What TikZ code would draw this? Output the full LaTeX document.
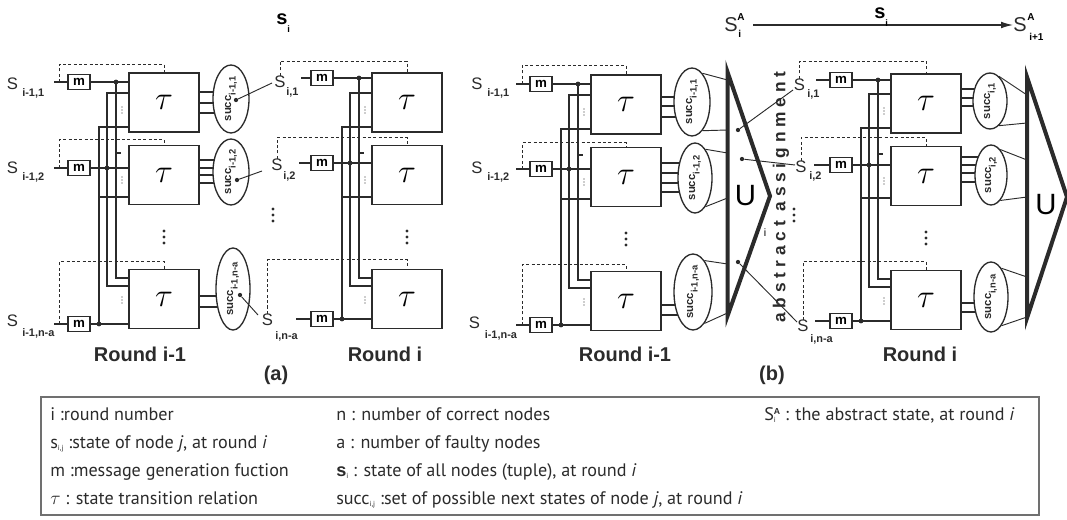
\documentclass[tikz,border=0pt]{standalone}
\usepackage{fontspec}
\setmainfont{Liberation Sans}
\newfontfamily\legfont{PT Sans}
\newfontfamily\spacedfont[LetterSpace=28]{Liberation Sans}
\usetikzlibrary{shapes.geometric,arrows.meta,calc}

\definecolor{ink}{HTML}{2B2B2B}
\definecolor{frame}{HTML}{707070}

\pgfdeclarelayer{back}
\pgfsetlayers{back,main}

\newcommand\fs[1]{\fontsize{#1}{#1}\selectfont}
% legend sub/superscripts
\newcommand\lsub[1]{\raisebox{-2pt}{\fs{5.5}#1}}
\newcommand\lsup[1]{\raisebox{4pt}{\fs{6.5}\normalfont\bfseries #1}}
% subscript inside the succ ellipses
\newcommand\ssub[1]{\raisebox{-3.4pt}{\fs{7}#1}}

\newcommand\smalldots[2]{\foreach \k in {-3,0,3}{\fill[ink] (#1,#2+\k) circle (0.55pt);}}
\newcommand\bigdots[2]{\foreach \k in {-6,0,6}{\fill[ink] (#1,#2+\k) circle (1.15pt);}}
% dashed feedback: start, rise above the box, target box
\newcommand\feedback[3]{\draw[feedback] (#1) |- ($(#3.north)+(0,-#2)$) -- (#3.north);}

\tikzset{
  x=0.75pt, y=-0.75pt,
  wire/.style={draw=ink, line width=1.2pt},
  thinwire/.style={draw=ink, line width=0.7pt},
  taubox/.style={draw=ink, line width=1.2pt, fill=white, minimum width=52.5pt,
    minimum height=44.25pt, inner sep=0pt, font=\fs{25}},
  mbox/.style={draw=ink, line width=0.8pt, fill=white, minimum width=16.5pt,
    minimum height=11.25pt, inner sep=0pt, font=\fs{10}\bfseries},
  feedback/.style={draw=ink, line width=0.6pt, dash pattern=on 2.3pt off 1.7pt},
  junc/.style={circle, fill=ink, inner sep=0pt, minimum size=3.6pt},
  succbox/.style={draw=ink, ellipse, line width=1pt, fill=white, inner sep=0pt},
  slabel/.style={inner sep=0pt, font=\fs{12.5}, text=ink},
  sub/.style={inner sep=0pt, font=\fs{8.2}\bfseries, text=ink, anchor=west},
  succlabel/.style={inner sep=0pt, rotate=90, font=\fs{8.5}\bfseries, text=ink},
  roundlabel/.style={inner sep=0pt, font=\fs{15}\bfseries, text=ink},
  union/.style={draw=ink, line width=3pt, line join=miter},
  pointer/.style={draw=ink, line width=0.7pt},
  tip/.style={circle, fill=ink, inner sep=0pt, minimum size=3.2pt},
  arrowline/.style={draw=ink, line width=0.9pt, -{Latex[length=9pt,width=5pt]}},
}

% one round: three transition boxes with message generators and broadcast buses
\newcommand\roundwiring[6]{%
  \begin{scope}[shift={(#2,#3)}]
    \coordinate (#1a) at (107,93);
    \coordinate (#1b) at (107,286);
    \coordinate (#1c) at (99,127);
    \coordinate (#1d) at (99,197);
    \coordinate (#1e) at (116,278);
    \coordinate (#1f) at (116,153);
    \node[taubox] (#1t1) at (164,102.5) {$\tau$};
    \node[taubox] (#1t2) at (164,175) {$\tau$};
    \node[taubox] (#1t3) at (164,299) {$\tau$};
    \node[mbox] (#1m1) at (79,#4) {m};
    \node[mbox] (#1m2) at (79,#5) {m};
    \node[mbox] (#1m3) at (79,#6) {m};
    \draw[wire] (#1m1) -- (#1t1.west |- #1m1);
    \draw[wire] (#1m2) -- (#1t2.west |- #1m2);
    \draw[wire] (#1m3) -- (#1t3.west |- #1m3);
    \draw[wire] (#1t1.west |- #1a) -- (#1a) -- (#1b) -- (#1t3.west |- #1b);
    \draw[wire] (#1t1.west |- #1c) -- (#1c) -- (99,#6);
    \draw[wire] (#1d) -- (#1t2.west |- #1d);
    \draw[wire] (116,#4) -- (#1e) -- (#1t3.west |- #1e);
    \draw[wire] (#1f) -- ++(5,0);
    \node[junc] (#1j1) at (116,#4) {};
    \node[junc] (#1j2) at (107,#5) {};
    \node[junc] (#1j3) at (99,#6) {};
    \smalldots{122}{110}
    \smalldots{122}{180}
    \smalldots{122}{300}
    \bigdots{164}{237}
  \end{scope}}

\begin{document}
\begin{tikzpicture}
\useasboundingbox (0,0) rectangle (1067,520);

% ================= panel (a) =================
\roundwiring{A}{0}{0}{82}{168}{324}
\roundwiring{B}{243}{0}{78}{163}{319}

% states entering round i-1
\node[slabel] (AS1) at (12.5,84) {S};  \node[sub] (AS1s) at (22,93.5) {i-1,1};
\node[slabel] (AS2) at (12.5,168) {S}; \node[sub] (AS2s) at (22,177) {i-1,2};
\node[slabel] (AS3) at (12.5,321) {S}; \node[sub] (AS3s) at (22,333) {i-1,n-a};
\foreach \n in {1,2,3}{
  \coordinate (Ain\n) at ($(Am\n.west)+(-13,0)$);
  \coordinate (Afb\n) at ($(Am\n.west)+(-8,0)$);
  \draw[wire] (Ain\n) -- (Am\n);
}
\feedback{Afb1}{8}{At1}
\feedback{Afb2}{5}{At2}
\feedback{Afb3}{7}{At3}

% successor sets of round i-1
\node[succbox, minimum width=27pt, minimum height=51pt] (Ae1) at (231,99) {};
\node[succbox, minimum width=27pt, minimum height=49.5pt] (Ae2) at (231,172) {};
\node[succbox, minimum width=25.5pt, minimum height=61.5pt] (Ae3) at (233,289) {};
\node[succlabel] (Ae1l) at (Ae1) {succ\ssub{i-1,1}};
\node[succlabel] (Ae2l) at (Ae2) {succ\ssub{i-1,2}};
\node[succlabel] (Ae3l) at (Ae3) {succ\ssub{i-1,n-a}};
\begin{pgfonlayer}{back}
\foreach \yy in {92,103,113} \draw[wire] (At1.east |- 0,\yy) -- (Ae1 |- 0,\yy);
\foreach \yy in {160,168,175,183} \draw[wire] (At2.east |- 0,\yy) -- (Ae2 |- 0,\yy);
\foreach \yy in {296,307} \draw[wire] (At3.east |- 0,\yy) -- (Ae3 |- 0,\yy);
\end{pgfonlayer}

% chosen successors become the states of round i
\node[tip] (Ap1) at (236,100) {};
\node[tip] (Ap2) at (237,180) {};
\node[tip] (Ap3) at (240,295) {};
\coordinate (Aq1) at (272,83);
\coordinate (Aq2) at (262,171);
\coordinate (Aq3) at (258,315);
\draw[pointer] (Ap1) -- (Aq1);
\draw[pointer] (Ap2) -- (Aq2);
\draw[pointer] (Ap3) -- (Aq3);

% states entering round i
\node[slabel] (BS1) at (280,82) {S};    \node[sub] (BS1s) at (286,92) {i,1};
\node[slabel] (BS2) at (277,165) {S};   \node[sub] (BS2s) at (283,176) {i,2};
\node[slabel] (BS3) at (267.5,320) {S}; \node[sub] (BS3s) at (275,336) {i,n-a};
\coordinate (Bin1) at ($(Bm1.west)+(-9,0)$);
\coordinate (Bin2) at ($(Bm2.west)+(-11,0)$);
\coordinate (Bin3) at ($(Bm3.west)+(-14,0)$);
\foreach \n in {1,2,3}{\draw[wire] (Bin\n) -- (Bm\n);}
\feedback{BS1.north}{11}{Bt1}
\feedback{BS2.north}{7}{Bt2}
\feedback{BS3.north}{9}{Bt3}
\bigdots{273}{215}

\node[font=\fs{15}\bfseries, inner sep=0pt] (sa) at (282,19) {s};
\node[font=\fs{7}\bfseries, inner sep=0pt, anchor=west] (sai) at (287,29) {i};

\node[roundlabel] (ra1) at (140,354) {Round i-1};
\node[roundlabel] (ra2) at (385,354) {Round i};
\node[roundlabel] (pa) at (276,375) {(a)};

% ================= panel (b) =================
\roundwiring{C}{462}{2}{82}{167}{323}
\roundwiring{D}{762}{1}{79}{164}{320}

\node[slabel] (CS1) at (477,84) {S};    \node[sub] (CS1s) at (487,93.5) {i-1,1};
\node[slabel] (CS2) at (477,168) {S};   \node[sub] (CS2s) at (487,177.5) {i-1,2};
\node[slabel] (CS3) at (474.5,323) {S}; \node[sub] (CS3s) at (484.5,335) {i-1,n-a};
\foreach \n in {1,2,3}{
  \coordinate (Cin\n) at ($(Cm\n.west)+(-13,0)$);
  \coordinate (Cfb\n) at ($(Cm\n.west)+(-7,0)$);
  \draw[wire] (Cin\n) -- (Cm\n);
}
\feedback{Cfb1}{9}{Ct1}
\feedback{Cfb2}{4}{Ct2}
\feedback{Cfb3}{6}{Ct3}

\node[succbox, minimum width=27pt, minimum height=51pt] (Ce1) at (692,102) {};
\node[succbox, minimum width=25.5pt, minimum height=52.5pt] (Ce2) at (695,178) {};
\node[succbox, minimum width=28.5pt, minimum height=57pt] (Ce3) at (693,292) {};
\node[succlabel] (Ce1l) at (Ce1) {succ\ssub{i-1,1}};
\node[succlabel] (Ce2l) at (Ce2) {succ\ssub{i-1,2}};
\node[succlabel] (Ce3l) at (Ce3) {succ\ssub{i-1,n-a}};
\begin{pgfonlayer}{back}
\foreach \yy in {97,106,117} \draw[wire] (Ct1.east |- 0,\yy) -- (Ce1 |- 0,\yy);
\foreach \yy in {163,173,183,192} \draw[wire] (Ct2.east |- 0,\yy) -- (Ce2 |- 0,\yy);
\foreach \yy in {305,315} \draw[wire] (Ct3.east |- 0,\yy) -- (Ce3 |- 0,\yy);
\end{pgfonlayer}

% union of the successor sets of round i-1
\coordinate (U1top) at (727.5,72);
\coordinate (U1bot) at (727.5,316);
\coordinate (U1tip) at (770,196);
\draw[union] (U1top) -- (U1tip) -- (U1bot) -- cycle;
\foreach \n/\yy in {1/80,2/130,3/153,4/198,5/264,6/313}{\coordinate (U1p\n) at (727.5,\yy);}
\draw[thinwire] (Ce1.70) -- (U1p1);
\draw[thinwire] (Ce1.-70) -- (U1p2);
\draw[thinwire] (Ce2.70) -- (U1p3);
\draw[thinwire] (Ce2.-70) -- (U1p4);
\draw[thinwire] (Ce3.70) -- (U1p5);
\draw[thinwire] (Ce3.-70) -- (U1p6);
\node[font=\fs{22}, inner sep=0pt] (U1) at (745.5,196) {U};
\node[font=\fs{8}, inner sep=0pt] (U1i) at (765,233) {i};

% abstract assignment of the union to the states of round i
\node[rotate=90, inner sep=0pt, font=\spacedfont\fs{13}\bfseries, text=ink] (absasg) at (781,197) {abstract assignment};
\node[tip] (Cp1) at (738,130) {};
\node[tip] (Cp2) at (742,159) {};
\node[tip] (Cp3) at (738,262) {};
\coordinate (Cq1) at (793,90);
\coordinate (Cq2) at (795,165);
\coordinate (Cq3) at (797,322);
\draw[pointer] (Cp1) -- (Cq1);
\draw[pointer] (Cp2) -- (Cq2);
\draw[pointer] (Cp3) -- (Cq3);

\node[slabel] (DS1) at (799.5,85) {S};  \node[sub] (DS1s) at (807,94) {i,1};
\node[slabel] (DS2) at (801,167) {S};   \node[sub] (DS2s) at (809,176.5) {i,2};
\node[slabel] (DS3) at (803,326) {S};   \node[sub] (DS3s) at (810,339) {i,n-a};
\coordinate (Din1) at ($(Dm1.west)+(-13,0)$);
\coordinate (Din2) at ($(Dm2.west)+(-15,0)$);
\coordinate (Din3) at ($(Dm3.west)+(-14,0)$);
\foreach \n in {1,2,3}{\draw[wire] (Din\n) -- (Dm\n);}
\feedback{DS1.north}{12}{Dt1}
\feedback{DS2.north}{8}{Dt2}
\feedback{DS3.north}{8}{Dt3}
\bigdots{794}{215}

\node[succbox, minimum width=25.5pt, minimum height=42pt] (De1) at (990,101) {};
\node[succbox, minimum width=24pt, minimum height=45pt] (De2) at (991,175) {};
\node[succbox, minimum width=25.5pt, minimum height=52.5pt] (De3) at (991,297) {};
\node[succlabel] (De1l) at (De1) {succ\ssub{i,1}};
\node[succlabel] (De2l) at (De2) {succ\ssub{i,2}};
\node[succlabel] (De3l) at (De3) {succ\ssub{i,n-a}};
\begin{pgfonlayer}{back}
\foreach \yy in {89,98,106} \draw[wire] (Dt1.east |- 0,\yy) -- (De1 |- 0,\yy);
\foreach \yy in {157,165,173,182} \draw[wire] (Dt2.east |- 0,\yy) -- (De2 |- 0,\yy);
\foreach \yy in {303,312} \draw[wire] (Dt3.east |- 0,\yy) -- (De3 |- 0,\yy);
\end{pgfonlayer}

\coordinate (U2top) at (1027,77);
\coordinate (U2bot) at (1027,318);
\coordinate (U2tip) at (1067,197);
\draw[union] (U2top) -- (U2tip) -- (U2bot) -- cycle;
\foreach \n/\yy in {1/95,2/123,3/160,4/197,5/277,6/317}{\coordinate (U2p\n) at (1027,\yy);}
\draw[thinwire] (De1.70) -- (U2p1);
\draw[thinwire] (De1.-70) -- (U2p2);
\draw[thinwire] (De2.70) -- (U2p3);
\draw[thinwire] (De2.-70) -- (U2p4);
\draw[thinwire] (De3.70) -- (U2p5);
\draw[thinwire] (De3.-70) -- (U2p6);
\node[font=\fs{22}, inner sep=0pt] (U2) at (1046,205) {U};

% abstract states
\node[font=\fs{15}, inner sep=0pt, text=ink] (SA) at (731,25) {S};
\node[font=\fs{7.5}\bfseries, inner sep=0pt, anchor=west] (SAa) at (737,17) {A};
\node[font=\fs{7.5}\bfseries, inner sep=0pt, anchor=west] (SAi) at (738,34) {i};
\node[font=\fs{15}, inner sep=0pt, text=ink] (SB) at (1020,25) {S};
\node[font=\fs{7.5}\bfseries, inner sep=0pt, anchor=west] (SBa) at (1027,17) {A};
\node[font=\fs{7.5}\bfseries, inner sep=0pt, anchor=west] (SBi) at (1029,37) {i+1};
\coordinate (arrA) at (753,25);
\draw[arrowline] (arrA) -- (SB);
\node[font=\fs{15}\bfseries, inner sep=0pt] (sb) at (880,13) {s};
\node[font=\fs{7}\bfseries, inner sep=0pt, anchor=west] (sbi) at (885,23) {i};

\node[roundlabel] (rb1) at (625,354) {Round i-1};
\node[roundlabel] (rb2) at (920,354) {Round i};
\node[roundlabel] (pb) at (772,375) {(b)};

% ================= legend =================
\draw[frame, line width=0.9pt] (41,397) rectangle (1039,515);
\begin{scope}[every node/.style={anchor=base west, inner sep=0pt, font=\legfont\fs{13.6}, text=ink}]
\node (L1) at (50,420) {i :round number};
\node (L2) at (50,448) {s\lsub{i,j} :state of node \textit{j}, at round \textit{i}};
\node (L3) at (50,476) {m :message generation fuction};
\node (L4) at (50,504) {$\tau$ : state transition relation};
\node (L5) at (336,420) {n : number of correct nodes};
\node (L6) at (336,448) {a : number of faulty nodes};
\node (L7) at (336,476) {{\normalfont\bfseries s}\lsub{i} : state of all nodes (tuple), at round \textit{i}};
\node (L8) at (336,504) {succ\lsub{i,j} :set of possible next states of node \textit{j}, at round \textit{i}};
\node (L9) at (764,420) {S\rlap{\lsub{i}}\lsup{A} : the abstract state, at round \textit{i}};
\end{scope}
\end{tikzpicture}
\end{document}
